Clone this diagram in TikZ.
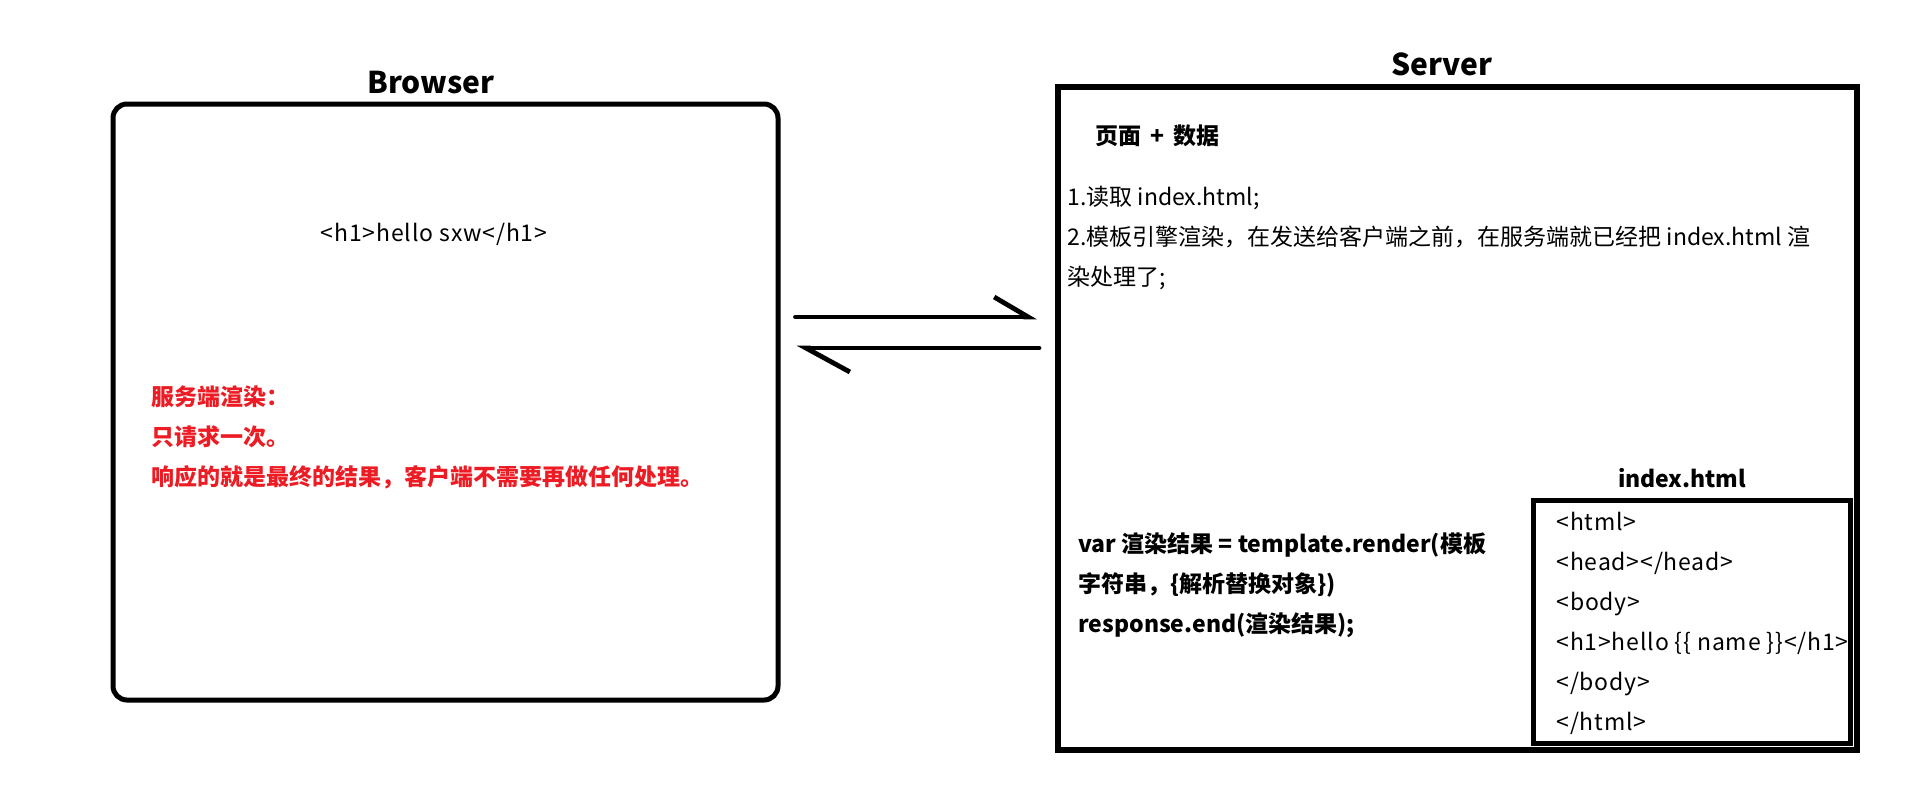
\documentclass[tikz,border=0pt]{standalone}
\usepackage{fontspec}
\setmainfont{Noto Sans CJK SC}
\newfontfamily\spacedfont[LetterSpace=3.6]{Noto Sans CJK SC}
\usetikzlibrary{arrows.meta}
\definecolor{alert}{RGB}{237,28,36}

\begin{document}
\begin{tikzpicture}[x=0.5pt,y=-0.5pt,
  frame/.style={draw=black, line width=2.5pt, inner sep=0pt},
  title/.style={font=\bfseries\fontsize{15}{18}\selectfont, anchor=base, inner sep=0pt},
  txt/.style={font=\fontsize{11.5}{14}\selectfont, anchor=base west, inner sep=0pt},
  btxt/.style={txt, font=\bfseries\fontsize{11.5}{14}\selectfont},
  markup/.style={txt, font=\spacedfont\fontsize{11.5}{14}\selectfont},
  conn/.style={line width=2.4pt, line cap=round, line join=round},
]
\useasboundingbox (0,0) rectangle (1910,804);

% the two machines and the template file
\node[frame, rounded corners=7pt, minimum width=332.5pt, minimum height=298pt] (browser) at (445.5,402) {};
\node[frame, line width=3pt, minimum width=399.5pt, minimum height=331.5pt] (server) at (1457.5,418.5) {};
\node[frame, minimum width=158.75pt, minimum height=121.75pt] (index) at (1691.75,621.75) {};

% titles
\node[title] (browserTitle) at (431,93) {Browser};
\node[title] (serverTitle) at (1442,75) {Server};
\node[title, font=\bfseries\fontsize{11.5}{14}\selectfont] (indexTitle) at (1682,487) {index.html};

% request / response
\coordinate (upY) at (0,317);
\coordinate (dnY) at (0,348);
\draw[conn, -{Straight Barb[harpoon, length=17pt, width=20pt]}, shorten <=7.5pt, shorten >=9pt]
  (browser.east |- upY) -- (server.west |- upY);
\draw[conn, -{Straight Barb[harpoon, length=22pt, width=24pt]}, shorten <=8pt, shorten >=8pt]
  (server.west |- dnY) -- (browser.east |- dnY);

% browser side
\node[markup, anchor=base] (page) at (434,241) {<h1>hello sxw</h1>};
\node[btxt, text=alert] (r1) at (151,405) {服务端渲染：};
\node[btxt, text=alert] (r2) at (151,445) {只请求一次。};
\node[btxt, text=alert] (r3) at (151,485) {响应的就是最终的结果，客户端不需要再做任何处理。};

% server side
\node[btxt] (pd) at (1095,144) {页面\hspace{4.5pt}+\hspace{4.5pt}数据};
\node[txt] (s1) at (1067,205) {1.读取 index.html;};
\node[txt] (s2) at (1067,245) {2.模板引擎渲染，在发送给客户端之前，在服务端就已经把 index.html 渲};
\node[txt] (s3) at (1067,285) {染处理了;};

\node[btxt] (c1) at (1078,552) {var 渲染结果 = template.render(模板};
\node[btxt] (c2) at (1078,592) {字符串，\{解析替换对象\})};
\node[btxt] (c3) at (1078,632) {response.end(渲染结果);};

% template file contents
\node[markup] (i1) at (1556,530) {<html>};
\node[markup] (i2) at (1556,570) {<head></head>};
\node[markup] (i3) at (1556,610) {<body>};
\node[markup] (i4) at (1556,650) {<h1>hello \{\{ name \}\}</h1>};
\node[markup] (i5) at (1556,690) {</body>};
\node[markup] (i6) at (1556,730) {</html>};
\end{tikzpicture}
\end{document}
